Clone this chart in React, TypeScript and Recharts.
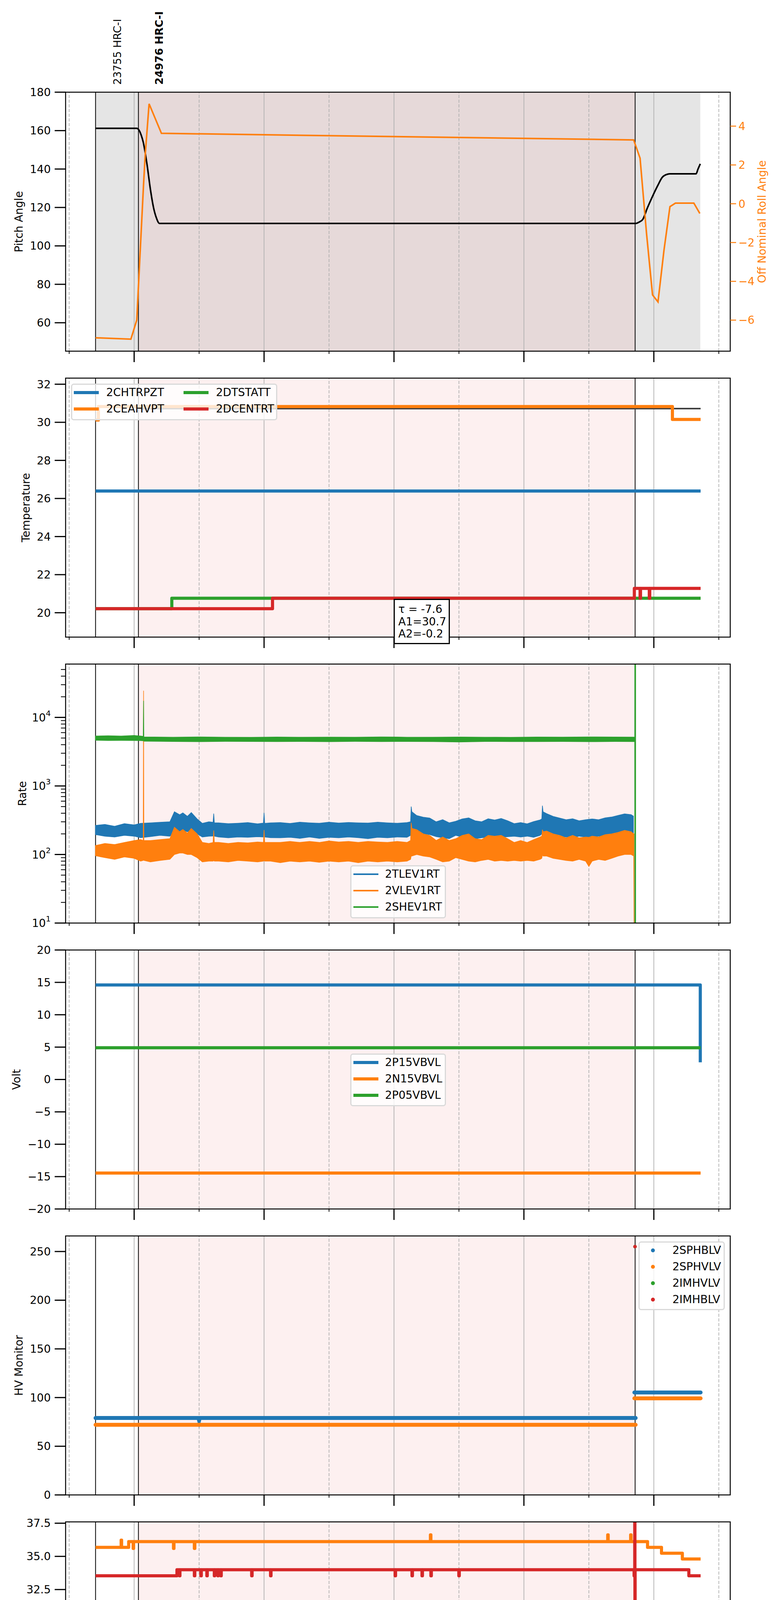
import React from "react";
import {
  Area,
  ComposedChart,
  Legend,
  Line,
  ReferenceArea,
  ReferenceLine,
  Scatter,
  XAxis,
  YAxis,
} from "recharts";

// ---------------------------------------------------------------------------
// time axis: hours of 2021-03-02 (doy 061)
// ---------------------------------------------------------------------------
const X_DOMAIN: [number, number] = [12.945, 23.176];
const HOURS = [13, 14, 15, 16, 17, 18, 19, 20, 21, 22, 23];
const OBS_BOUNDS = [13.406, 14.066, 21.712];
const OBS_23755: [number, number] = [13.406, 14.066];
const OBS_24976: [number, number] = [14.066, 21.712];
const OBS_NEXT: [number, number] = [21.712, 22.715];
const OBS_LABELS = [
  { t: 13.736, text: "23755 HRC-I", bold: false },
  { t: 14.384, text: "24976 HRC-I", bold: true },
];

// series are [hour, value] pairs
const pitchAngle = [
  [13.406, 161.2], [14.04, 161.2], [14.07, 160.5], [14.11, 157.5], [14.14, 154],
  [14.2, 142], [14.25, 129.5], [14.3, 119.7], [14.34, 114.8], [14.39, 111.7],
  [21.72, 111.7], [21.78, 112.5], [21.83, 113.8], [21.9, 119.7], [21.98, 125.8],
  [22.06, 131.4], [22.13, 135.7], [22.21, 137.3], [22.25, 137.5], [22.65, 137.5],
  [22.68, 140.0], [22.715, 142.7],
];
const rollAngle = [
  [13.406, -6.91], [13.95, -6.98], [14.04, -6.0], [14.145, 1.0], [14.17, 2.5],
  [14.23, 5.15], [14.42, 3.63], [21.689, 3.29], [21.788, 2.35], [21.888, -1.55],
  [21.98, -4.7], [22.064, -5.06], [22.156, -2.4], [22.248, -0.15], [22.332, 0.03],
  [22.616, 0.03], [22.708, -0.5],
];

const chtrpzt = [[13.406, 26.39], [22.72, 26.39]];
const ceahvpt = [[13.406, 30.12], [13.45, 30.83], [22.286, 30.15], [22.72, 30.15]];
const ceahvptFit = [[14.07, 30.72], [22.72, 30.72]];
const dtstatt = [[13.406, 20.21], [14.58, 20.76], [22.72, 20.76]];
const dcentrt = [
  [13.406, 20.21], [16.13, 20.76], [21.7, 21.28], [21.788, 20.76], [21.795, 21.28],
  [21.93, 20.76], [21.937, 21.28], [22.72, 21.28],
];
const FIT_TEXT = ["\u03c4 = -7.6", "A1=30.7", "A2=-0.2"];

// rates: [hour, low, high] envelope of the noisy trace
const tlev1rt = [
  [13.4, 195, 265], [13.55, 185, 275], [13.7, 180, 258], [13.85, 190, 282], [14.0, 185, 270],
  [14.1, 176, 285], [14.25, 182, 290], [14.4, 190, 295], [14.55, 185, 300], [14.62, 210, 420],
  [14.7, 220, 380], [14.75, 225, 405], [14.82, 215, 360], [14.88, 218, 410], [14.97, 200, 330],
  [15.05, 180, 285], [15.15, 185, 300], [15.215, 186, 295], [15.225, 190, 395], [15.235, 185, 290],
  [15.3, 180, 290], [15.45, 175, 282], [15.6, 180, 286], [15.75, 178, 292], [15.9, 182, 280],
  [15.99, 180, 288], [16.0, 185, 405], [16.01, 180, 285], [16.1, 176, 290], [16.25, 175, 292],
  [16.4, 178, 284], [16.55, 172, 296], [16.7, 180, 290], [16.85, 172, 286], [17.0, 178, 296],
  [17.15, 175, 288], [17.3, 180, 293], [17.45, 176, 290], [17.6, 170, 288], [17.75, 178, 296],
  [17.9, 175, 290], [18.05, 180, 286], [18.2, 178, 292], [18.255, 190, 300], [18.265, 215, 500],
  [18.275, 210, 420], [18.35, 205, 370], [18.45, 200, 350], [18.55, 195, 340], [18.65, 182, 300],
  [18.75, 175, 322], [18.85, 170, 290], [18.95, 190, 305], [19.05, 180, 330], [19.15, 175, 342],
  [19.25, 170, 310], [19.35, 175, 300], [19.45, 180, 332], [19.55, 172, 318], [19.65, 178, 335],
  [19.75, 182, 310], [19.85, 185, 282], [19.95, 180, 292], [20.05, 185, 280], [20.15, 178, 302],
  [20.25, 190, 320], [20.275, 200, 330], [20.285, 215, 515], [20.295, 210, 420], [20.35, 200, 395],
  [20.45, 190, 360], [20.55, 185, 340], [20.65, 180, 322], [20.75, 175, 332], [20.85, 185, 310],
  [20.95, 180, 322], [21.05, 178, 330], [21.15, 185, 322], [21.25, 180, 342], [21.35, 190, 352],
  [21.45, 200, 372], [21.55, 205, 392], [21.65, 210, 382], [21.69, 200, 360],
];
const vlev1rt = [
  [13.4, 96, 135], [13.55, 90, 145], [13.7, 85, 140], [13.85, 92, 150], [14.0, 88, 160],
  [14.1, 80, 165], [14.14, 82, 160], [14.145, 85, 24500], [14.15, 82, 160], [14.25, 78, 160],
  [14.4, 82, 165], [14.55, 85, 170], [14.62, 100, 250], [14.7, 105, 215], [14.75, 105, 232],
  [14.82, 100, 205], [14.88, 100, 240], [14.97, 90, 200], [15.05, 78, 150], [15.15, 80, 145],
  [15.215, 80, 150], [15.225, 82, 225], [15.235, 80, 150], [15.3, 80, 150], [15.45, 78, 145],
  [15.6, 82, 150], [15.75, 80, 148], [15.9, 78, 152], [15.99, 80, 150], [16.0, 82, 228],
  [16.01, 80, 150], [16.1, 80, 150], [16.25, 76, 150], [16.4, 80, 155], [16.55, 78, 150],
  [16.7, 80, 155], [16.85, 77, 150], [17.0, 80, 158], [17.15, 78, 152], [17.3, 80, 155],
  [17.45, 76, 150], [17.6, 80, 155], [17.75, 78, 152], [17.9, 80, 150], [18.05, 78, 155],
  [18.2, 80, 150], [18.255, 85, 160], [18.265, 95, 290], [18.275, 95, 240], [18.35, 100, 230],
  [18.45, 95, 200], [18.55, 92, 190], [18.65, 85, 160], [18.75, 78, 180], [18.85, 80, 160],
  [18.95, 90, 170], [19.05, 85, 190], [19.15, 80, 200], [19.25, 78, 170], [19.35, 82, 165],
  [19.45, 85, 190], [19.55, 80, 185], [19.65, 82, 190], [19.75, 80, 170], [19.85, 82, 150],
  [19.95, 80, 160], [20.05, 82, 150], [20.15, 80, 165], [20.25, 85, 180], [20.275, 88, 185],
  [20.285, 100, 230], [20.295, 95, 215], [20.35, 95, 220], [20.45, 88, 200], [20.55, 85, 190],
  [20.65, 82, 175], [20.75, 80, 190], [20.85, 85, 175], [20.95, 80, 180], [21.0, 67, 178],
  [21.05, 80, 185], [21.15, 85, 180], [21.25, 82, 195], [21.35, 88, 200], [21.45, 95, 210],
  [21.55, 100, 225], [21.65, 100, 215], [21.69, 95, 200], [21.7, 1, 200],
];
const shev1rt = [
  [13.4, 4650, 5350], [13.6, 4600, 5400], [13.8, 4620, 5350], [14.0, 4600, 5450], [14.1, 4580, 5350],
  [14.14, 4550, 5300], [14.145, 4600, 17500], [14.15, 4500, 5200], [14.3, 4480, 5180], [14.6, 4450, 5150],
  [15.0, 4420, 5200], [15.4, 4460, 5150], [15.8, 4450, 5120], [16.2, 4430, 5180], [16.6, 4450, 5140],
  [17.0, 4420, 5160], [17.4, 4460, 5150], [17.8, 4440, 5200], [18.2, 4450, 5150], [18.6, 4430, 5140],
  [19.0, 4380, 5180], [19.4, 4450, 5150], [19.8, 4440, 5130], [20.2, 4430, 5170], [20.6, 4450, 5160],
  [21.0, 4420, 5200], [21.4, 4450, 5170], [21.69, 4440, 5160], [21.705, 4450, 5150], [21.707, 1, 1000000],
  [21.725, 1, 1000000],
];
const RATE_TICKS = [
  10, 20, 30, 40, 50, 60, 70, 80, 90, 100, 200, 300, 400, 500, 600, 700, 800, 900,
  1000, 2000, 3000, 4000, 5000, 6000, 7000, 8000, 9000, 10000, 20000, 30000, 40000, 50000,
];

const p15vbvl = [[13.406, 14.6], [22.712, 14.6], [22.715, 2.65]];
const n15vbvl = [[13.406, -14.45], [22.72, -14.45]];
const p05vbvl = [[13.406, 4.9], [22.72, 4.9]];

const sphblv = [[13.406, 79], [14.99, 79], [15.0, 76.5], [15.01, 79], [21.72, 79], [21.72, null], [21.7, 105.2], [22.72, 105.2]];
const sphvlv = [[13.406, 72], [21.72, 72], [21.72, null], [21.7, 99.2], [22.72, 99.2]];
const imhvlv = [[21.71, 255]];
const imhblv = [[21.71, 255]];

const spinatm = [
  [13.406, 19.59], [16.76, 20.27], [16.767, 19.59], [17.058, 20.27], [17.08, 19.59], [17.1, 20.27],
  [17.12, 19.59], [17.14, 20.27], [17.16, 19.59], [17.18, 20.27], [17.932, 19.59], [17.939, 20.27],
  [22.72, 20.27],
];
const sphvatm = [
  [13.406, 35.68], [13.8, 36.22], [13.807, 35.68], [13.916, 36.11], [13.985, 35.6], [13.992, 36.11],
  [14.606, 35.6], [14.613, 36.11], [14.927, 35.6], [14.934, 36.11], [18.561, 36.62], [18.568, 36.11],
  [21.29, 36.62], [21.297, 36.11], [21.643, 36.62], [21.65, 36.11], [21.903, 35.68], [22.118, 35.24],
  [22.439, 34.8], [22.72, 34.8],
];
const iminatm = [[13.406, 20.27], [15.863, 20.98], [22.72, 20.98]];
const imhvatm = [
  [13.406, 33.54], [14.659, 33.99], [14.698, 33.54], [14.705, 33.99], [14.927, 33.54], [14.934, 33.99],
  [15.027, 33.54], [15.034, 33.99], [15.119, 33.54], [15.126, 33.99], [15.234, 33.54], [15.241, 33.99],
  [15.288, 33.54], [15.295, 33.99], [15.334, 33.54], [15.341, 33.99], [15.809, 33.54], [15.816, 33.99],
  [16.1, 33.54], [16.107, 33.99], [18.017, 33.54], [18.024, 33.99], [18.277, 33.54], [18.284, 33.99],
  [18.431, 33.54], [18.438, 33.99], [18.568, 33.54], [18.575, 33.99], [18.998, 33.54], [19.005, 33.99],
  [21.696, 33.54], [21.703, 33.99], [21.706, 60], [21.709, 0], [21.712, 33.99], [22.539, 33.54],
  [22.72, 33.54],
];

const fhtrmzt = [[13.406, 22.92], [14.238, 23.5], [14.981, 22.92], [19.028, 22.4], [22.378, 22.92], [22.72, 22.92]];
const fradpyt = [
  [13.406, 18.65], [13.877, 19.17], [14.406, 18.65], [14.927, 18.15], [17.028, 17.65],
  [22.071, 18.15], [22.705, 18.65], [22.72, 18.65],
];
const fepratm = [
  [13.406, 24.63], [19.772, 23.89], [19.785, 24.63], [19.797, 23.89], [19.81, 24.63], [19.822, 23.89],
  [19.835, 24.63], [19.847, 23.89], [19.86, 24.63], [19.872, 23.89], [19.885, 24.63], [19.897, 23.89],
  [19.91, 24.63], [19.922, 23.89], [19.935, 24.63], [19.947, 23.89], [19.96, 24.63], [19.972, 23.89],
  [19.985, 24.63], [19.99, 23.89], [20.04, 24.63], [20.046, 23.89], [20.14, 24.63], [20.146, 23.89],
  [22.409, 24.63], [22.72, 24.63],
];
const fe00atm = [
  [13.406, 22.66], [13.693, 23.34], [13.7, 22.31], [13.707, 22.66], [14.108, 23.0], [14.161, 21.7],
  [14.168, 23.0], [14.215, 23.68], [14.222, 23.0], [14.567, 22.63], [14.574, 23.0], [14.682, 22.31],
  [14.689, 23.0], [14.774, 22.63], [14.781, 23.0], [14.989, 22.63], [14.996, 23.0], [15.119, 21.99],
  [15.126, 23.0], [15.272, 22.63], [15.279, 23.0], [15.48, 22.66], [15.5, 23.0], [15.52, 22.31],
  [15.527, 23.0], [15.56, 22.66], [15.58, 23.0], [15.602, 22.66], [15.901, 22.31], [15.908, 22.66],
  [16.093, 23.02], [16.1, 22.66], [16.277, 22.31], [16.284, 22.66], [16.545, 21.99], [16.552, 22.66],
  [16.706, 23.02], [16.713, 22.66], [16.775, 23.02], [16.782, 22.66], [16.859, 23.02], [16.866, 22.66],
  [17.419, 23.34], [17.426, 22.31], [17.433, 22.66], [17.503, 21.38], [17.51, 22.66], [17.633, 22.31],
  [17.64, 22.66], [17.802, 23.02], [17.809, 22.66], [17.917, 23.68], [17.924, 22.66], [17.963, 22.31],
  [17.97, 22.66], [18.04, 23.02], [18.047, 22.66], [18.362, 22.34], [18.4, 22.66], [18.42, 22.34],
  [18.45, 22.66], [18.48, 22.34], [18.52, 22.66], [18.546, 22.34], [18.622, 21.67], [18.629, 22.34],
  [18.76, 22.7], [18.767, 22.34], [18.875, 21.67], [18.882, 22.34], [18.898, 23.34], [18.905, 22.34],
  [19.159, 22.7], [19.166, 22.34], [19.335, 23.02], [19.342, 22.34], [19.65, 22.7], [19.657, 22.34],
  [19.91, 23.68], [19.917, 22.34], [19.956, 21.67], [19.963, 22.34], [20.025, 23.34], [20.032, 22.34],
  [20.048, 21.38], [20.055, 22.34], [20.155, 21.99], [20.162, 22.34], [20.186, 23.02], [20.193, 22.34],
  [20.316, 22.7], [20.323, 22.34], [20.554, 21.99], [20.561, 22.34], [21.014, 22.7], [21.021, 22.34],
  [21.075, 23.34], [21.082, 22.34], [21.305, 21.38], [21.312, 22.34], [21.706, 40], [21.709, 0],
  [21.712, 22.34], [22.501, 22.66], [22.72, 22.66],
];

// ---------------------------------------------------------------------------
// look & layout
// ---------------------------------------------------------------------------
const BLUE = "#1f77b4";
const ORANGE = "#ff7f0e";
const GREEN = "#2ca02c";
const RED = "#d62728";
const GRID = "#b0b0b0";
const SHADE_GRAY = "#e5e5e5";
const SHADE_ROSE = "#e6d9d9";
const SHADE_PINK = "#fdf0f0";

const W = 2000;
const LEFT_W = 168;
const RIGHT_W = 130;
const PLOT_H = 663;
const FIRST_TOP = 236;
const STEP = 732;
const FONT = 28;

const TICK_TEXT = { fontSize: FONT, fill: "#000" };
const TICK_LINE = { stroke: "#000", strokeWidth: 3 };

const rows = (pairs: (number | null)[][]) => pairs.map(([t, v]) => ({ t, v }));
const bands = (triples: number[][]) => triples.map(([t, lo, hi]) => ({ t, band: [lo, hi] }));
const minus = (v: number) => (v < 0 ? `\u2212${-v}` : `${v}`);
const plotTop = (i: number) => FIRST_TOP + STEP * i;
const chartTop = (i: number) => (i === 0 ? 0 : plotTop(i) - 20);

type LegendEntry = { name: string; color: string; dot?: boolean; thick?: number };
type LegendCfg = {
  x: number; y: number; w: number; h: number;
  colX: number[]; textDx: number; entries: LegendEntry[];
};

const tempLegend: LegendCfg = {
  x: 182, y: 982, w: 528, h: 94, colX: [7, 288], textDx: 83,
  entries: [
    { name: "2CHTRPZT", color: BLUE }, { name: "2CEAHVPT", color: ORANGE },
    { name: "2DTSTATT", color: GREEN }, { name: "2DCENTRT", color: RED },
  ],
};
const rateLegend: LegendCfg = {
  x: 897, y: 2215, w: 245, h: 136, colX: [8], textDx: 81,
  entries: [
    { name: "2TLEV1RT", color: BLUE, thick: 4 }, { name: "2VLEV1RT", color: ORANGE, thick: 4 },
    { name: "2SHEV1RT", color: GREEN, thick: 4 },
  ],
};
const voltLegend: LegendCfg = {
  x: 897, y: 2697, w: 245, h: 135, colX: [8], textDx: 81,
  entries: [
    { name: "2P15VBVL", color: BLUE }, { name: "2N15VBVL", color: ORANGE }, { name: "2P05VBVL", color: GREEN },
  ],
};
const hvLegend: LegendCfg = {
  x: 1635, y: 3178, w: 221, h: 176, colX: [5], textDx: 82,
  entries: [
    { name: "2SPHBLV", color: BLUE, dot: true }, { name: "2SPHVLV", color: ORANGE, dot: true },
    { name: "2IMHVLV", color: GREEN, dot: true }, { name: "2IMHBLV", color: RED, dot: true },
  ],
};
const detLegend: LegendCfg = {
  x: 897, y: 4139, w: 247, h: 177, colX: [7], textDx: 80,
  entries: [
    { name: "2SPINATM", color: BLUE }, { name: "2SPHVATM", color: ORANGE },
    { name: "2IMINATM", color: GREEN }, { name: "2IMHVATM", color: RED },
  ],
};
const feaLegend: LegendCfg = {
  x: 182, y: 4871, w: 252, h: 177, colX: [7], textDx: 83,
  entries: [
    { name: "2FHTRMZT", color: BLUE }, { name: "2FRADPYT", color: ORANGE },
    { name: "2FEPRATM", color: GREEN }, { name: "2FE00ATM", color: RED },
  ],
};

// ---------------------------------------------------------------------------
// pieces
// ---------------------------------------------------------------------------
function LegendBody({ cfg }: { cfg: LegendCfg }) {
  const nRows = Math.ceil(cfg.entries.length / cfg.colX.length);
  return (
    <div
      style={{
        position: "relative",
        width: cfg.w,
        height: cfg.h,
        boxSizing: "border-box",
        border: "3px solid #d9d9d9",
        borderRadius: 7,
        background: "rgba(255,255,255,0.8)",
        fontSize: FONT,
        color: "#000",
      }}
    >
      {cfg.entries.map((e, i) => {
        const col = Math.floor(i / nRows);
        const row = i % nRows;
        const cy = 20 + 42 * row;
        const hx = cfg.colX[col] - 3;
        const thick = e.thick ?? 8;
        return (
          <React.Fragment key={e.name}>
            {e.dot ? (
              <span
                style={{
                  position: "absolute", left: hx + 27, top: cy - 5, width: 10, height: 10,
                  borderRadius: 5, background: e.color,
                }}
              />
            ) : (
              <span
                style={{
                  position: "absolute", left: hx, top: cy - thick / 2, width: 64, height: thick,
                  background: e.color,
                }}
              />
            )}
            <span
              style={{
                position: "absolute", left: hx + cfg.textDx, top: cy, lineHeight: 1,
                transform: "translateY(-50%)", whiteSpace: "nowrap",
              }}
            >
              {e.name}
            </span>
          </React.Fragment>
        );
      })}
    </div>
  );
}

function boxLegend(cfg: LegendCfg, top: number) {
  return (
    <Legend
      key="legend"
      layout="vertical"
      align="center"
      verticalAlign="middle"
      wrapperStyle={{
        position: "absolute", left: cfg.x, top: cfg.y - top, right: "auto", bottom: "auto",
        width: cfg.w, height: cfg.h, margin: 0, padding: 0,
      }}
      content={() => <LegendBody cfg={cfg} />}
    />
  );
}

function HourTick(props: any) {
  const { x, y, payload, showLabels } = props;
  const h = payload.value as number;
  const major = h % 2 === 0;
  return (
    <g>
      <line x1={x} x2={x} y1={y} y2={y + (major ? 28 : 7)} stroke="#000" strokeWidth={major ? 3 : 2} />
      {showLabels && (
        <text x={x} y={y + (major ? 59 : 21)} textAnchor="middle" fontSize={major ? FONT : 18} fill="#000">
          {`${h}h`}
        </text>
      )}
    </g>
  );
}

function RateTick(props: any) {
  const { x, y, payload } = props;
  const lg = Math.log10(payload.value);
  const exp = Math.round(lg);
  if (Math.abs(lg - exp) > 1e-6) {
    return <line x1={x - 12} x2={x} y1={y} y2={y} stroke="#000" strokeWidth={2} />;
  }
  return (
    <g>
      <line x1={x - 28} x2={x} y1={y} y2={y} stroke="#000" strokeWidth={3} />
      <text x={x - 38} y={y + 10} textAnchor="end" fontSize={FONT} fill="#000">
        10
        <tspan fontSize={20} dy={-14}>
          {exp}
        </tspan>
      </text>
    </g>
  );
}

function yLabel(text: string, cx: number, color = "#000") {
  return {
    content: (p: any) => {
      const vb = p.viewBox ?? {};
      const cy = (vb.y ?? 0) + (vb.height ?? PLOT_H) / 2;
      return (
        <text
          x={cx}
          y={cy}
          transform={`rotate(-90 ${cx} ${cy})`}
          textAnchor="middle"
          dominantBaseline="central"
          fontSize={FONT}
          fill={color}
        >
          {text}
        </text>
      );
    },
  };
}

const xLabel = {
  content: (p: any) => {
    const vb = p.viewBox ?? {};
    return (
      <text x={vb.x + vb.width / 2} y={vb.y + 95} textAnchor="middle" fontSize={FONT} fill="#000">
        2021-03-02 (061)
      </text>
    );
  },
};

function timeAxis(showLabels: boolean, height: number) {
  return (
    <XAxis
      key="x"
      xAxisId="x"
      type="number"
      dataKey="t"
      domain={X_DOMAIN}
      allowDataOverflow
      ticks={HOURS}
      interval={0}
      tickLine={false}
      axisLine={false}
      tickSize={0}
      tickMargin={0}
      height={height}
      tick={(p: any) => <HourTick {...p} showLabels={showLabels} />}
      label={showLabels ? xLabel : undefined}
    />
  );
}

function backdrop(yId: string, top: boolean) {
  const shades: [[number, number], string][] = top
    ? [[OBS_23755, SHADE_GRAY], [OBS_24976, SHADE_ROSE], [OBS_NEXT, SHADE_GRAY]]
    : [[OBS_24976, SHADE_PINK]];
  return [
    ...shades.map(([r, c], i) => (
      <ReferenceArea
        key={`shade${i}`}
        xAxisId="x"
        yAxisId={yId}
        x1={r[0]}
        x2={r[1]}
        fill={c}
        fillOpacity={1}
        stroke="none"
        zIndex={-30}
      />
    )),
    ...HOURS.map((h) => (
      <ReferenceLine
        key={`grid${h}`}
        xAxisId="x"
        yAxisId={yId}
        x={h}
        stroke={GRID}
        strokeWidth={1.8}
        strokeDasharray={h % 2 ? "8 4" : undefined}
        zIndex={-20}
      />
    )),
    ...OBS_BOUNDS.map((t) => (
      <ReferenceLine key={`obs${t}`} xAxisId="x" yAxisId={yId} x={t} stroke="#000" strokeWidth={2} zIndex={-10} />
    )),
  ];
}

function frame(yId: string) {
  return (
    <ReferenceArea
      key="frame"
      xAxisId="x"
      yAxisId={yId}
      x1={X_DOMAIN[0]}
      x2={X_DOMAIN[1]}
      fill="none"
      stroke="#000"
      strokeWidth={2.5}
      zIndex={450}
    />
  );
}

function stepLine(key: string, data: (number | null)[][], color: string, width = 8) {
  return (
    <Line
      key={key}
      xAxisId="x"
      yAxisId="y"
      data={rows(data)}
      dataKey="v"
      type="stepAfter"
      stroke={color}
      strokeWidth={width}
      strokeLinejoin="round"
      dot={false}
      activeDot={false}
      isAnimationActive={false}
      connectNulls={false}
    />
  );
}

function rateBand(key: string, data: number[][], color: string) {
  return (
    <Area
      key={key}
      xAxisId="x"
      yAxisId="y"
      data={bands(data)}
      dataKey="band"
      type="linear"
      stroke={color}
      strokeWidth={1.5}
      fill={color}
      fillOpacity={1}
      dot={false}
      activeDot={false}
      isAnimationActive={false}
    />
  );
}

function leftAxis(domain: [number, number], ticks: number[], label: string, cx: number, fmt?: (v: number) => string) {
  return (
    <YAxis
      key="y"
      yAxisId="y"
      type="number"
      dataKey="v"
      domain={domain}
      allowDataOverflow
      ticks={ticks}
      interval={0}
      width={LEFT_W}
      tickSize={28}
      tickMargin={10}
      tickLine={TICK_LINE}
      axisLine={false}
      tick={TICK_TEXT}
      tickFormatter={fmt ?? minus}
      label={yLabel(label, cx)}
    />
  );
}

function Panel({ index, height, children }: { index: number; height: number; children: React.ReactNode }) {
  return (
    <div style={{ position: "absolute", left: 0, top: chartTop(index) }}>
      <ComposedChart
        width={W}
        height={height}
        margin={{ top: index === 0 ? FIRST_TOP : 20, right: index === 0 ? 0 : RIGHT_W, bottom: 0, left: 0 }}
      >
        {children}
      </ComposedChart>
    </div>
  );
}

function ObsLabel(props: any) {
  const { viewBox, text, bold } = props;
  const x = viewBox.x + 10;
  const y = viewBox.y - 19;
  return (
    <text x={x} y={y} transform={`rotate(-90 ${x} ${y})`} textAnchor="start" fontSize={27} fontWeight={bold ? "bold" : "normal"} fill="#000">
      {text}
    </text>
  );
}

// ---------------------------------------------------------------------------
export default function App() {
  const midH = 20 + PLOT_H + 32;
  return (
    <div style={{ position: "absolute", left: 0, top: 0, width: W, height: 5400, background: "#fff", fontFamily: "'DejaVu Sans', sans-serif" }}>
      {/* pitch / roll */}
      <Panel index={0} height={FIRST_TOP + PLOT_H + 32}>
        {timeAxis(false, 32)}
        {leftAxis([45.2, 180], [60, 80, 100, 120, 140, 160, 180], "Pitch Angle", 48)}
        <YAxis
          yAxisId="roll"
          orientation="right"
          type="number"
          domain={[-7.6, 5.75]}
          allowDataOverflow
          ticks={[-6, -4, -2, 0, 2, 4]}
          interval={0}
          width={RIGHT_W}
          tickSize={15}
          tickMargin={6}
          tickLine={{ stroke: ORANGE, strokeWidth: 2.5 }}
          axisLine={false}
          tick={{ fontSize: FONT, fill: ORANGE }}
          tickFormatter={minus}
          label={yLabel("Off Nominal Roll Angle", 1951, ORANGE)}
        />
        {backdrop("y", true)}
        {OBS_LABELS.map((o) => (
          <ReferenceLine
            key={o.text}
            xAxisId="x"
            yAxisId="y"
            x={o.t}
            stroke="none"
            label={{ content: (p: any) => <ObsLabel {...p} text={o.text} bold={o.bold} /> }}
          />
        ))}
        <Line xAxisId="x" yAxisId="y" data={rows(pitchAngle)} dataKey="v" type="monotone" stroke="#000" strokeWidth={4} dot={false} activeDot={false} isAnimationActive={false} />
        <Line xAxisId="x" yAxisId="roll" data={rows(rollAngle)} dataKey="v" type="linear" stroke={ORANGE} strokeWidth={4} dot={false} activeDot={false} isAnimationActive={false} />
        {frame("y")}
      </Panel>

      {/* temperature */}
      <Panel index={1} height={midH}>
        {timeAxis(false, 32)}
        {leftAxis([18.72, 32.32], [20, 22, 24, 26, 28, 30, 32], "Temperature", 66)}
        {backdrop("y", false)}
        {stepLine("chtrpzt", chtrpzt, BLUE)}
        {stepLine("fit", ceahvptFit, "#404040", 4)}
        {stepLine("ceahvpt", ceahvpt, ORANGE)}
        {stepLine("dtstatt", dtstatt, GREEN)}
        {stepLine("dcentrt", dcentrt, RED)}
        {frame("y")}
        {boxLegend(tempLegend, chartTop(1))}
      </Panel>
      <div
        style={{
          position: "absolute", left: 1008, top: 1533, width: 144, height: 116, boxSizing: "border-box",
          border: "3px solid #000", background: "#fff", fontSize: FONT, lineHeight: "31.5px",
          padding: "8px 0 0 9px", whiteSpace: "nowrap",
        }}
      >
        {FIT_TEXT.map((l) => (
          <div key={l}>{l}</div>
        ))}
      </div>

      {/* rates */}
      <Panel index={2} height={midH}>
        {timeAxis(false, 32)}
        <YAxis
          yAxisId="y"
          type="number"
          scale="log"
          domain={[10, 60000]}
          allowDataOverflow
          ticks={RATE_TICKS}
          interval={0}
          width={LEFT_W}
          tickSize={0}
          tickMargin={0}
          tickLine={false}
          axisLine={false}
          tick={(p: any) => <RateTick {...p} />}
          label={yLabel("Rate", 57)}
        />
        {backdrop("y", false)}
        {rateBand("tlev", tlev1rt, BLUE)}
        {rateBand("vlev", vlev1rt, ORANGE)}
        {rateBand("shev", shev1rt, GREEN)}
        {frame("y")}
        {boxLegend(rateLegend, chartTop(2))}
      </Panel>

      {/* secondary voltages */}
      <Panel index={3} height={midH}>
        {timeAxis(false, 32)}
        {leftAxis([-20, 20], [-20, -15, -10, -5, 0, 5, 10, 15, 20], "Volt", 42)}
        {backdrop("y", false)}
        {stepLine("p15", p15vbvl, BLUE)}
        {stepLine("n15", n15vbvl, ORANGE)}
        {stepLine("p05", p05vbvl, GREEN)}
        {frame("y")}
        {boxLegend(voltLegend, chartTop(3))}
      </Panel>

      {/* HV monitor */}
      <Panel index={4} height={midH}>
        {timeAxis(false, 32)}
        {leftAxis([0, 266], [0, 50, 100, 150, 200, 250], "HV Monitor", 48)}
        {backdrop("y", false)}
        <Line xAxisId="x" yAxisId="y" data={rows(sphblv)} dataKey="v" type="linear" stroke={BLUE} strokeWidth={10} strokeLinecap="round" dot={false} activeDot={false} isAnimationActive={false} connectNulls={false} />
        <Line xAxisId="x" yAxisId="y" data={rows(sphvlv)} dataKey="v" type="linear" stroke={ORANGE} strokeWidth={10} strokeLinecap="round" dot={false} activeDot={false} isAnimationActive={false} connectNulls={false} />
        <Scatter xAxisId="x" yAxisId="y" data={rows(imhvlv)} dataKey="v" fill={GREEN} isAnimationActive={false} />
        <Scatter xAxisId="x" yAxisId="y" data={rows(imhblv)} dataKey="v" fill={RED} isAnimationActive={false} />
        {frame("y")}
        {boxLegend(hvLegend, chartTop(4))}
      </Panel>

      {/* detector temperatures */}
      <Panel index={5} height={midH}>
        {timeAxis(false, 32)}
        {leftAxis([18.08, 37.6], [20, 22.5, 25, 27.5, 30, 32.5, 35, 37.5], "Detector Temp", 41, (v) => v.toFixed(1))}
        {backdrop("y", false)}
        {stepLine("spinatm", spinatm, BLUE)}
        {stepLine("sphvatm", sphvatm, ORANGE)}
        {stepLine("iminatm", iminatm, GREEN)}
        {stepLine("imhvatm", imhvatm, RED)}
        {frame("y")}
        {boxLegend(detLegend, chartTop(5))}
      </Panel>

      {/* FEA temperatures */}
      <Panel index={6} height={20 + PLOT_H + 109}>
        {timeAxis(true, 109)}
        {leftAxis([16.14, 26.13], [18, 20, 22, 24, 26], "FEA Temp", 66)}
        {backdrop("y", false)}
        {stepLine("fhtrmzt", fhtrmzt, BLUE)}
        {stepLine("fradpyt", fradpyt, ORANGE)}
        {stepLine("fepratm", fepratm, GREEN)}
        {stepLine("fe00atm", fe00atm, RED)}
        {frame("y")}
        {boxLegend(feaLegend, chartTop(6))}
      </Panel>
    </div>
  );
}
